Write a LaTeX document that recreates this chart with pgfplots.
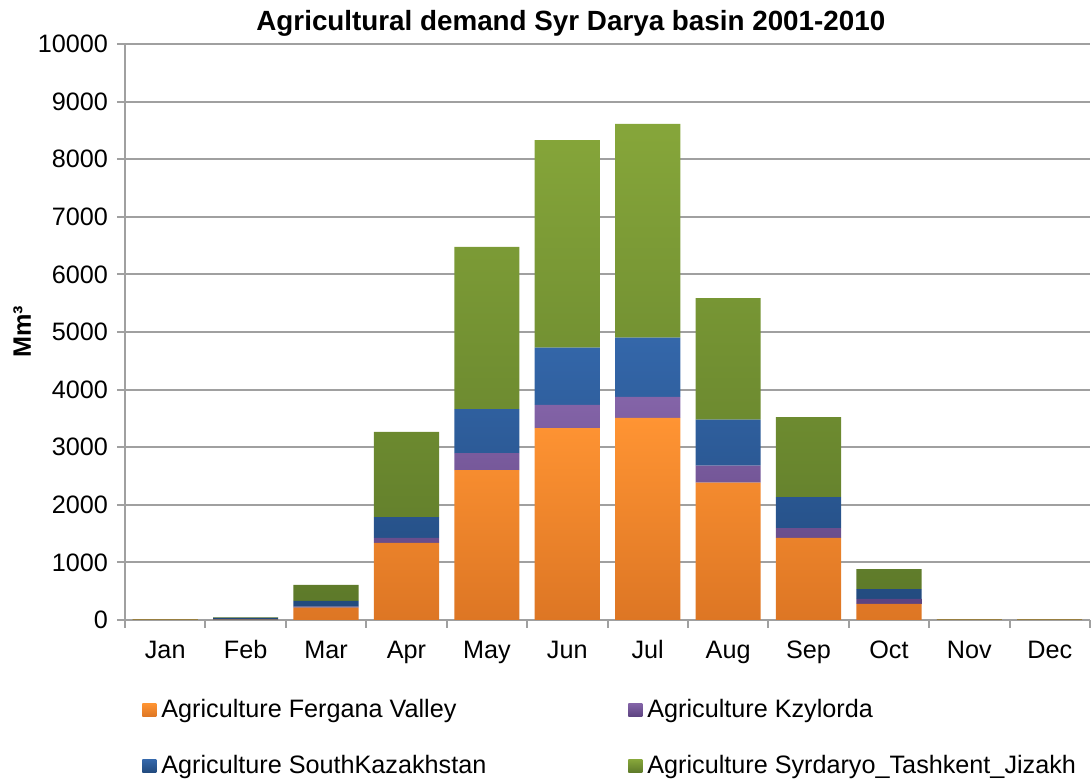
\documentclass[border=0pt]{standalone}
\usepackage{fontspec}
\setmainfont{Liberation Sans}
\usepackage{pgfplots}
\pgfplotsset{compat=1.18}
\definecolor{orT}{HTML}{FF9433}
\definecolor{orB}{HTML}{DD7624}
\definecolor{puT}{HTML}{8464A8}
\definecolor{puB}{HTML}{5C4380}
\definecolor{blT}{HTML}{3467AA}
\definecolor{blB}{HTML}{21497C}
\definecolor{grT}{HTML}{86A63A}
\definecolor{grB}{HTML}{5C7829}
\definecolor{gridc}{HTML}{A0A0A0}
\begin{document}
\begin{tikzpicture}
\path[use as bounding box] (-62.5pt,-80pt) rectangle (483.5pt,310pt);
\begin{axis}[
  at={(0,0)}, anchor=south west,
  scale only axis, width=482.5pt, height=288pt,
  ybar stacked, bar width=0.81,
  xmin=-0.5, xmax=11.5, ymin=0, ymax=10000,
  ytick={0,1000,...,10000},
  scaled y ticks=false,
  xtick={0,...,11},
  xticklabels={Jan,Feb,Mar,Apr,May,Jun,Jul,Aug,Sep,Oct,Nov,Dec},
  minor xtick={-0.5,0.5,...,11.5},
  axis x line*=bottom, axis y line*=left,
  axis line style={-, gridc, line width=1pt},
  ymajorgrids, grid style={gridc, line width=1pt},
  tick align=outside, major tick length=4pt, minor tick length=4pt,
  major x tick style={draw=none},
  tick style={gridc, line width=1pt},
  ticklabel style={font=\fontsize{12.6}{15}\selectfont},
  /pgf/number format/assume math mode=true,
  /pgf/number format/1000 sep={},
  yticklabel style={xshift=-1pt, /pgf/number format/fixed, /pgf/number format/precision=0},
  xticklabel style={yshift=-2.5pt, text height=9pt, text depth=2.6pt},
  title={\textbf{Agricultural demand Syr Darya basin 2001-2010}},
  title style={at={(axis description cs:0.462,1)}, anchor=base, yshift=0.7pt, font=\fontsize{13.9}{16}\selectfont},
  ylabel={\textbf{Mm³}},
  ylabel style={at={(axis description cs:-0.1067,0.5)}, anchor=center, font=\fontsize{12.6}{15}\selectfont},
  legend columns=2,
  legend cell align=left,
  legend style={at={(axis description cs:0.0176,0)}, anchor=north west, yshift=-38pt,
    draw=none, fill=none, inner sep=0pt, font=\fontsize{12.6}{15}\selectfont,
    row sep=14.5pt,
    nodes={inner sep=1.5pt},
    /tikz/every odd column/.append style={column sep=1pt},
    /tikz/every even column/.append style={column sep=69.5pt}},
  legend image code/.code={\path[#1,draw=none] (0pt,-3.3pt) rectangle (7pt,3.3pt);},
]
\addplot[draw=none, top color=orT, bottom color=orB] coordinates {
 (0,5) (1,5) (2,214) (3,1337) (4,2604) (5,3333) (6,3507) (7,2384) (8,1424) (9,278) (10,5) (11,5)};
\addplot[draw=none, top color=puT, bottom color=puB] coordinates {
 (0,0) (1,0) (2,20) (3,87) (4,295) (5,400) (6,365) (7,295) (8,173) (9,87) (10,0) (11,0)};
\addplot[draw=none, top color=blT, bottom color=blB] coordinates {
 (0,0) (1,30) (2,96) (3,364) (4,764) (5,995) (6,1029) (7,799) (8,538) (9,173) (10,0) (11,0)};
\addplot[draw=none, top color=grT, bottom color=grB] coordinates {
 (0,10) (1,10) (2,278) (3,1476) (4,2813) (5,3605) (6,3710) (7,2112) (8,1389) (9,347) (10,10) (11,10)};
\legend{Agriculture Fergana Valley, Agriculture Kzylorda, Agriculture SouthKazakhstan, Agriculture Syrdaryo\_Tashkent\_Jizakh}
\end{axis}
\end{tikzpicture}
\end{document}
